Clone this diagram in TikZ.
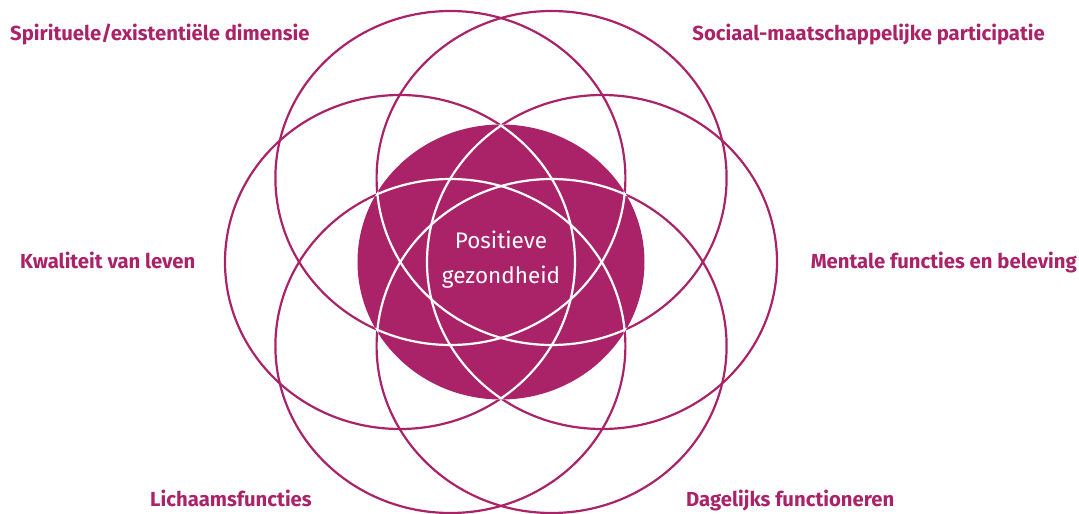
\documentclass[tikz,border=0pt]{standalone}
\usepackage{fontspec}
\setmainfont{Fira Sans}
\usetikzlibrary{shapes.geometric}
\definecolor{paars}{RGB}{170,35,105}

\begin{document}
\begin{tikzpicture}[
    x = 1pt, y = 1pt,
    ring/.style = {ellipse, draw=paars, line width=2.2pt, minimum width=350pt,
                   minimum height=334pt, inner sep=0pt},
    kern/.style = {ellipse, fill=paars, minimum width=287pt, minimum height=275pt,
                   inner sep=0pt},
    wit/.style = {white, line width=2.2pt},
    lbl/.style = {text=paars, inner sep=0pt, font=\bfseries\fontsize{20.3}{24}\selectfont},
    midden/.style = {text=white, align=center, inner sep=0pt,
                     font=\fontsize{22.5}{35}\selectfont}
    ]
  \useasboundingbox (-501,-252) rectangle (578,262);

  % zes cirkels
  \node[ring] (tl) at (-50.6,84) {};
  \node[ring] (tr) at (50.6,84) {};
  \node[ring] (ml) at (-101,0) {};
  \node[ring] (mr) at (101,0) {};
  \node[ring] (bl) at (-50.6,-84) {};
  \node[ring] (br) at (50.6,-84) {};

  % kern
  \node[kern] (kern) at (0,0) {};
  \begin{scope}
    \clip (kern.center) ellipse [x radius=143.5pt, y radius=137.5pt];
    \foreach \c in {tl,tr,ml,mr,bl,br}
      \draw[wit] (\c.center) ellipse [x radius=175pt, y radius=167pt];
  \end{scope}

  \node[midden] (positief) at (0,2) {Positieve\\gezondheid};

  % labels
  \node[lbl, anchor=base west] (spiritueel) at (-491,221) {Spirituele/existentiële dimensie};
  \node[lbl, anchor=base east] (sociaal) at (544,221) {Sociaal-maatschappelijke participatie};
  \node[lbl, anchor=base west] (kwaliteit) at (-481,-7) {Kwaliteit van leven};
  \node[lbl, anchor=base east] (mentaal) at (576,-7) {Mentale functies en beleving};
  \node[lbl, anchor=base west] (lichaam) at (-351,-244) {Lichaamsfuncties};
  \node[lbl, anchor=base west] (dagelijks) at (185,-244) {Dagelijks functioneren};
\end{tikzpicture}
\end{document}
